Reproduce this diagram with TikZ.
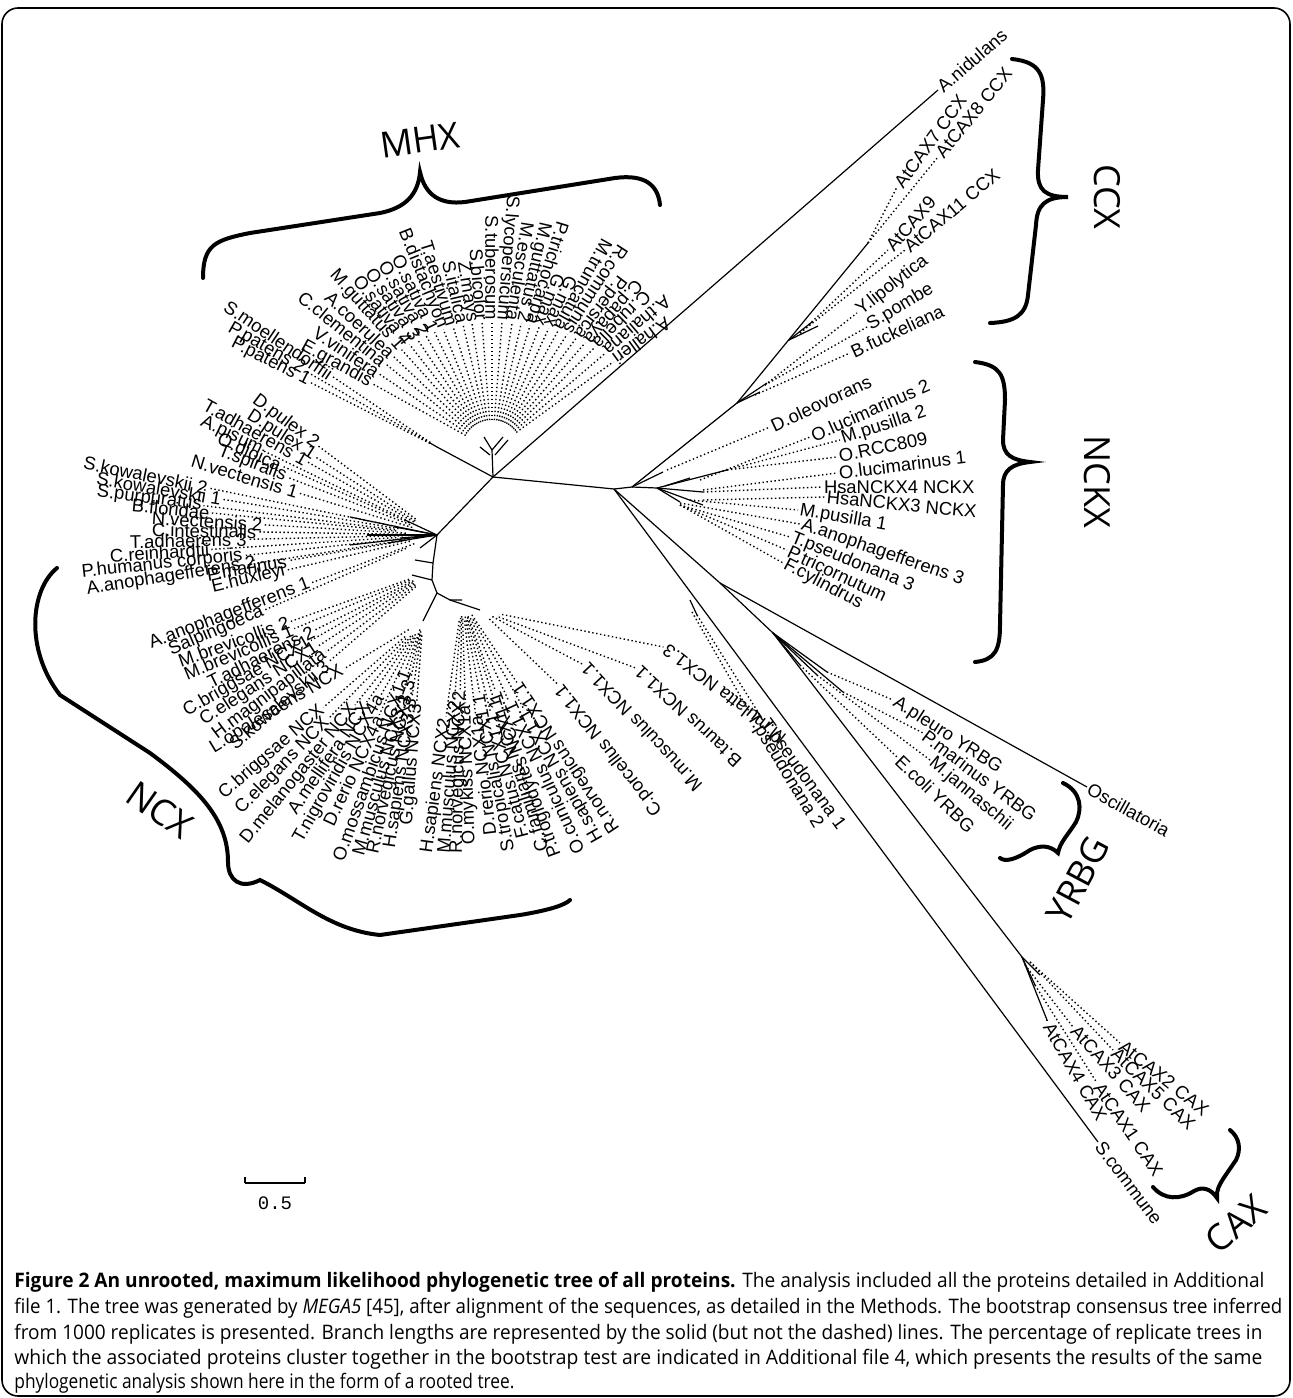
\documentclass[tikz,border=0pt]{standalone}
\usepackage{fontspec}
\setmainfont{Liberation Sans}
\newfontfamily\bigfont{Open Sans}
\newfontfamily\capfont{Open Sans}
\newfontfamily\scalefont{Liberation Mono}
\usetikzlibrary{calc}
\newsavebox\capbox
\tikzset{
  lab/.style={font=\fontsize{9.2}{10}\selectfont, inner sep=0.8pt},
  dots/.style={line width=0.7pt, dash pattern=on 0.7pt off 1.3pt},
  br/.style={line width=0.6pt},
  clade/.style={font=\bigfont\fontsize{18}{20}\selectfont, inner sep=0pt},
  brace/.style={line width=2pt, line cap=round},
  capline/.style={anchor=base west, inner sep=0pt, font=\capfont\fontsize{10}{12}\selectfont},
}
\newcommand\capl[2]{\sbox\capbox{#2}\pgfmathsetmacro\capsx{#1/\the\wd\capbox}\scalebox{\capsx}[1]{\usebox\capbox}}
% inward label: name, hub, start point, text (text reads from start toward hub)
\newcommand\inlab[4]{%
  \path let \p1=($(#2)-(#3)$), \n1={atan2(\y1,\x1)} in node[lab, rotate=\n1, anchor=west] (#1) at (#3) {#4};
  \draw[dots] ($(#2)!0.18!(#1.east)$) -- (#1.east);}
% inward label with explicit rotation
\newcommand\inlabr[5]{%
  \node[lab, rotate=#4, anchor=west] (#1) at (#3) {#5};
  \draw[dots] ($(#2)!0.12!(#1.east)$) -- (#1.east);}
\begin{document}
\begin{tikzpicture}[x=0.5pt,y=0.5pt]
\useasboundingbox (0,0) rectangle (1292,-1398);
\draw[line width=0.8pt, rounded corners=8pt] (2,-8) rectangle (1290,-1396);

% main nodes
\coordinate (C1) at (493,-477);
\coordinate (C2) at (614,-489);
\coordinate (C3) at (437,-535);
\coordinate (C3b) at (435,-570);
\coordinate (hM) at (492,-450);
\coordinate (Pp) at (437,-447);
\coordinate (Anid) at (938,-90);
\coordinate (N1) at (632,-487);
\coordinate (Nf) at (737,-403);
\coordinate (Tc) at (868,-243);
\coordinate (N2) at (657,-488);
\coordinate (Dol) at (663,-472);
\coordinate (Y1) at (720,-583);
\coordinate (Y2) at (773,-633);
\coordinate (Osc) at (1087,-787);
\coordinate (Ncax) at (1022,-957);
\coordinate (Scom) at (1098,-1142);
\coordinate (hB1) at (423,-621);
\coordinate (hB2) at (462,-600);
\coordinate (hB3) at (480,-610);

% branches
\draw[br] (C1) -- (C2);
\draw[br] (C1) -- (Anid);
\draw[br] (C1) -- (hM);
\draw[br] (C1) -- (Pp);
\draw[br] (C1) -- (C3);
\draw[br] (C2) -- (N1) -- (Nf) -- (Tc);
\draw[br] (N1) -- (N2);
\draw[br] (N1) -- (Dol);
\draw[br] (C2) -- (Y1) -- (Osc);
\draw[br] (Y1) -- (Y2) -- (Ncax);
\draw[br] (C2) -- (Scom);
\draw[br] (C3) -- (433,-563) -- (432,-580) -- (437,-593) -- (hB1);
\draw[br] (437,-593) -- (450,-600) -- (hB2);
\draw[br] (450,-600) -- (hB3);
% small stubs
\draw[br] (hM) -- (503,-437); \draw[br] (495,-455) -- (508,-440); \draw[br] (hM) -- (484,-437); \draw[br] (490,-455) -- (480,-447);
\draw[br] (Pp) -- (430,-443);
\foreach \p in {(350,-517),(367,-535),(350,-545),(395,-527),(405,-520),(388,-543),(420,-548),(400,-538)} \draw[br] (C3) -- \p;
\draw[br] (433,-563) -- (415,-560); \draw[br] (432,-580) -- (412,-575);
\draw[br] (N2) -- (727,-470); \draw[br] (N2) -- (703,-492); \draw[br] (N2) -- (703,-505); \draw[br] (N2) -- (680,-502); \draw[br] (665,-486) -- (690,-478);
\draw[br] (Nf) -- (767,-383); \draw[br] (Nf) -- (760,-392);
\draw[br] (789,-340) -- (812,-322); \draw[br] (789,-340) -- (818,-326);
\draw[br] (Y2) -- (827,-672); \draw[br] (Y2) -- (843,-692); \draw[br] (Y2) -- (817,-675); \draw[br] (Y2) -- (800,-665);
\draw[br] (Ncax) -- (1047,-1020); \draw[br] (Ncax) -- (1040,-975); \draw[br] (Ncax) -- (1035,-985);
\draw[br] (690,-600) -- (697,-615);

% leaf labels on long branches
\node[lab, rotate=41, anchor=west] (lAnid) at (Anid) {A.nidulans};
\node[lab, rotate=-29, anchor=west] (lOsc) at (Osc) {Oscillatoria};
\node[lab, rotate=-53, anchor=west] (lScom) at (Scom) {S.commune};

% MHX fan (inward labels)
\foreach \a/\r/\t [count=\i] in {
 36/150/A.halleri, 40.5/148/A.thaliana, 45/145/C.rubella, 49/142/C.papaya, 53/140/P.persica,
 57/138/R.communis, 61/136/M.truncatula, 65/134/G.max, 69/132/G.max, 73/130/P.trichocarpa,
 77/130/M.guttatus 2, 81/129/M.esculenta, 85.5/128/S.lycopersicum, 90/128/S.tuberosum,
 94.5/128/S.bicolor, 99/128/Z.mays, 103/128/S.italica, 107.5/129/T.aestivum, 112/130/B.distachyon,
 116/131/O.sativa 1, 120/132/O.sativa 2, 124/133/O.sativa 3, 128/134/O.sativa 4, 132/135/M.guttatus 1,
 136.5/136/A.coerulea, 141/137/C.clementina, 146/136/V.vinifera, 151/137/E.grandis}{
  \node[lab, rotate=\a+180, anchor=east] (mhx\i) at ($(hM)+(\a:\r)$) {\t};
  \draw[dots] ($(hM)+(\a:30)$) -- (mhx\i.east);
}
% moss / lycophyte
\foreach \a/\r/\t [count=\i] in {146/126/S.moellendorffii, 150/152/P.patens 2, 153/142/P.patens 1}{
  \node[lab, rotate=\a+180, anchor=east] (pp\i) at ($(Pp)+(\a:\r)$) {\t};
  \draw[dots] ($(Pp)+(\a:8)$) -- (pp\i.east);
}
% left NCX cluster (start points)
\foreach \sx/\sy/\t [count=\i] in {
 253/397/D.pulex 2, 247/413/D.pulex 1, 203/403/T.adhaerens 1, 200/420/A.pisum, 217/437/O.dioica,
 217/450/T.spiralis, 190/460/N.vectensis 1, 82/462/S.kowalevskii 2, 95/478/S.kowalevskii 1,
 95/492/S.purpuratus, 130/505/B.floridae, 150/518/N.vectensis 2, 150/530/C.intestinalis,
 128/542/T.adhaerens 3, 108/556/C.reinhardtii, 80/573/P.humanus corporis, 85/590/A.anophagefferens 2,
 205/575/P.marinus, 210/588/E.huxleyi, 148/645/A.anophagefferens 1, 168/652/Salpingoeca}{
  \inlab{lc\i}{C3}{\sx,-\sy}{\t}
}
\foreach \sx/\sy/\t [count=\i] in {
 177/662/M.brevicollis 2, 183/675/M.brevicollis 1, 207/684/T.adhaerens 2, 183/713/C.briggsae NCX1,
 200/723/C.elegans NCX1, 213/737/H.magnipapillata, 230/747/S.kowalevskii 3}{
  \inlab{ld\i}{C3b}{\sx,-\sy}{\t}
}
% NCX bottom fans (start points)
\foreach \sx/\sy/\t [count=\i] in {
 210/750/L.opalescens NCX, 220/797/C.briggsae NCX, 237/813/C.elegans NCX, 243/843/D.melanogaster NCX,
 290/813/A.mellifera NCX, 297/843/T.nigroviridis NCX4a, 327/827/D.rerio NCX4a, 337/862/O.mossambicus NCX1.1,
 357/857/M.musculus NCX3.1, 373/855/R.norvegicus NCX3.3, 390/850/H.sapiens NCX3.3, 407/827/G.gallus NCX3}{
  \inlab{nb\i}{hB1}{\sx,-\sy}{\t}
}
\foreach \sx/\sy/\t [count=\i] in {
 427/855/H.sapiens NCX2, 443/855/M.musculus NCX2, 457/855/R.norvegicus NCX2, 470/847/O.mykiss NCX1a,
 490/837/D.rerio NCX1a, 510/853/S.tropicalis NCX1.1, 523/840/F.catus NCX1.1, 543/853/C.familiaris NCX1.1,
 557/858/P.troglodytes NCX1.1, 580/855/O.cuniculus NCX1.1, 600/843/H.sapiens NCX1.1, 617/833/R.norvegicus NCX1.1}{
  \inlab{nc\i}{hB2}{\sx,-\sy}{\t}
}
\foreach \sx/\sy/\rot/\t [count=\i] in {
 660/815/128/C.porcellus NCX1.1, 700/790/133/M.musculus NCX1.1, 740/765/137/B.taurus NCX1.1, 785/742/142/M.mulatta NCX1.3}{
  \inlabr{nd\i}{hB3}{\sx,-\sy}{\rot}{\t}
}
% outward groups: start of dots / label start / rotation / text
\foreach \sx/\sy/\x/\y/\rot/\t [count=\i] in {
 868/243/897/187/54/AtCAX7 CCX, 868/243/938/157/51/AtCAX8 CCX, 800/333/888/250/49/AtCAX9,
 800/333/905/250/40/AtCAX11 CCX, 765/385/857/313/38/Y.lipolytica, 765/385/867/327/31/S.pombe,
 755/395/850/353/25/B.fuckeliana, 667/470/770/427/25/D.oleovorans,
 700/480/810/437/24/O.lucimarinus 2, 727/470/840/440/18/M.pusilla 2, 727/470/837/457/12/O.RCC809,
 703/490/837/473/7/O.lucimarinus 1, 703/492/822/487/0/HsaNCKX4 NCKX, 703/500/825/497/-5.5/HsaNCKX3 NCKX,
 690/500/798/510/-10/M.pusilla 1, 680/503/800/524/-19/A.anophagefferens 3, 680/505/790/537/-22/T.pseudonana 3,
 680/505/787/550/-25/P.tricornutum, 680/505/783/563/-28/F.cylindrus,
 827/672/893/700/-33/A.pleuro YRBG, 843/692/923/733/-37/P.marinus YRBG, 817/675/930/760/-40/M.jannaschii,
 800/665/897/757/-44/E.coli YRBG,
 697/615/763/720/-54/T.pseudonana 1, 692/612/750/713/-59/T.pseudonana 2,
 1030/962/1120/1043/-38.5/AtCAX2 CAX, 1030/962/1113/1050/-44/AtCAX5 CAX, 1025/965/1073/1027/-48/AtCAX3 CAX,
 1035/985/1097/1083/-56/AtCAX1 CAX, 1047/1020/1047/1023/-60/AtCAX4 CAX}{
  \node[lab, rotate=\rot, anchor=west] (ol\i) at (\x,-\y) {\t};
  \draw[dots] (\sx,-\sy) -- (ol\i.west);
}

% braces and clade names
\draw[brace] (203,-278) .. controls (203,-245) and (215,-240) .. (250,-233) -- (380,-213)
  .. controls (405,-208) and (418,-195) .. (420,-172) .. controls (425,-195) and (440,-205) .. (465,-202)
  -- (615,-178) .. controls (645,-174) and (658,-185) .. (660,-205);
\node[clade, rotate=8] (tMHX) at (420,-140) {MHX};
\draw[brace] (1012,-59) .. controls (1040,-62) and (1045,-75) .. (1043,-100) -- (1038,-170)
  .. controls (1037,-190) and (1045,-197) .. (1068,-197) .. controls (1045,-197) and (1037,-205) .. (1036,-225)
  -- (1028,-295) .. controls (1026,-315) and (1015,-322) .. (990,-323);
\node[clade, rotate=-90] (tCCX) at (1107,-197) {CCX};
\draw[brace] (975,-362) .. controls (1000,-365) and (1005,-375) .. (1005,-400) -- (1003,-440)
  .. controls (1003,-455) and (1012,-460) .. (1030,-462) .. controls (1012,-464) and (1003,-470) .. (1003,-485)
  -- (1000,-625) .. controls (1000,-650) and (995,-660) .. (975,-662);
\node[clade, rotate=-90] (tNCKX) at (1097,-482) {NCKX};
\draw[brace] (1063,-783) .. controls (1082,-792) and (1082,-810) .. (1076,-822) .. controls (1068,-835) and (1060,-842) .. (1058,-853)
  .. controls (1050,-845) and (1040,-845) .. (1030,-850) .. controls (1015,-860) and (1005,-862) .. (1000,-858);
\node[clade, rotate=62] (tYRBG) at (1078,-880) {YRBG};
\draw[brace] (1230,-1130) .. controls (1240,-1138) and (1241,-1150) .. (1236,-1160) -- (1225,-1176)
  .. controls (1219,-1185) and (1216,-1191) .. (1217,-1198)
  .. controls (1211,-1189) and (1203,-1186) .. (1194,-1191) .. controls (1180,-1200) and (1164,-1200) .. (1153,-1187);
\node[clade, rotate=40] (tCAX) at (1236,-1224) {CAX};
\draw[brace] (57,-568) .. controls (30,-590) and (25,-650) .. (60,-695) -- (150,-753)
  .. controls (200,-790) and (228,-820) .. (228,-862) .. controls (228,-880) and (240,-890) .. (260,-880)
  .. controls (300,-900) and (330,-930) .. (380,-935) -- (520,-915) .. controls (550,-910) and (565,-905) .. (570,-900);
\node[clade, rotate=-35] (tNCX) at (160,-810) {NCX};

% scale bar
\coordinate (sb1) at (245,-1183); \coordinate (sb2) at (305,-1183);
\draw[line width=0.8pt] (sb1) -- (sb2);
\draw[line width=0.8pt] (sb1) -- ++(0,6); \draw[line width=0.8pt] (sb2) -- ++(0,6);
\node[font=\scalefont\fontsize{9.5}{10}\selectfont] (sbl) at (275,-1203) {0.5};

% caption
\node[capline] (cap1) at (14,-1287) {\capl{625pt}{\bfseries Figure 2 An unrooted, maximum likelihood phylogenetic tree of all proteins. \mdseries The analysis included all the proteins detailed in Additional}};
\node[capline] (cap2) at (14,-1313) {\capl{634pt}{file 1. The tree was generated by \itshape MEGA5 \upshape [45], after alignment of the sequences, as detailed in the Methods. The bootstrap consensus tree inferred}};
\node[capline] (cap3) at (14,-1339) {\capl{624pt}{from 1000 replicates is presented. Branch lengths are represented by the solid (but not the dashed) lines. The percentage of replicate trees in}};
\node[capline] (cap4) at (14,-1364) {\capl{624pt}{which the associated proteins cluster together in the bootstrap test are indicated in Additional file 4, which presents the results of the same}};
\node[capline] (cap5) at (14,-1388) {\capl{250pt}{phylogenetic analysis shown here in the form of a rooted tree.}};
\end{tikzpicture}
\end{document}
